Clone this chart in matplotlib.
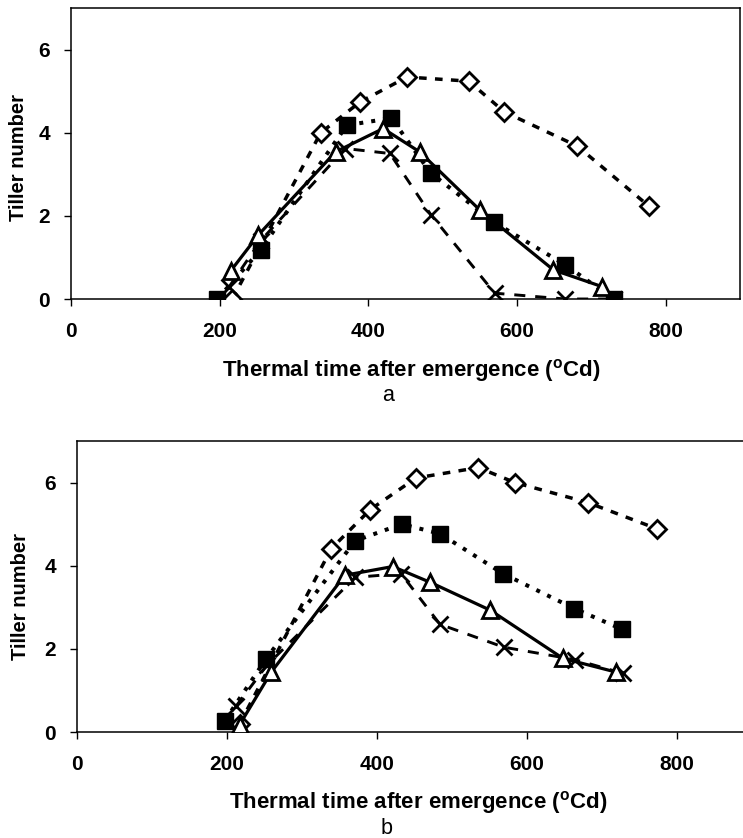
import matplotlib
matplotlib.use("Agg")
import matplotlib.pyplot as plt

plt.rcParams['font.family'] = ['Liberation Sans', 'DejaVu Sans']
plt.rcParams['mathtext.fontset'] = 'custom'
plt.rcParams['mathtext.rm'] = 'Liberation Sans:bold'
plt.rcParams['mathtext.bf'] = 'Liberation Sans:bold'

# ---- panel a ----
a_diamond_x = [217, 336, 389, 452, 535, 583, 681, 777]
a_diamond_y = [0.0, 4.0, 4.74, 5.34, 5.24, 4.5, 3.68, 2.24]
a_square_x = [197, 255, 371, 431, 484, 569, 665, 730]
a_square_y = [0.0, 1.18, 4.18, 4.35, 3.03, 1.85, 0.82, 0.0]
a_tri_x = [215, 252, 356, 420, 469, 550, 649, 714]
a_tri_y = [0.68, 1.54, 3.54, 4.1, 3.54, 2.14, 0.7, 0.3]
a_cross_x = [213, 255, 369, 429, 484, 570, 665, 730]
a_cross_y = [0.3, 1.4, 3.62, 3.5, 2.03, 0.14, 0.0, 0.0]

# ---- panel b ----
b_diamond_x = [217, 339, 391, 452, 535, 584, 681, 773]
b_diamond_y = [0.2, 4.41, 5.35, 6.11, 6.36, 6.0, 5.52, 4.89]
b_square_x = [197, 252, 371, 433, 484, 568, 663, 727]
b_square_y = [0.27, 1.76, 4.6, 5.0, 4.77, 3.81, 2.97, 2.47]
b_tri_x = [217, 259, 357, 421, 471, 551, 648, 719]
b_tri_y = [0.18, 1.44, 3.77, 3.98, 3.6, 2.93, 1.77, 1.44]
b_cross_x = [212, 253, 371, 432, 484, 569, 664, 728]
b_cross_y = [0.62, 1.6, 3.72, 3.81, 2.59, 2.04, 1.74, 1.41]

x_ticks = [0, 200, 400, 600, 800]
y_ticks = [0, 2, 4, 6]
x_label = r"Thermal time after emergence ($^{\mathrm{o}}$Cd)"
y_label = "Tiller number"

W, H = 743, 838
fig = plt.figure(figsize=(W / 100, H / 100), dpi=100)


def px_axes(left, top, right, bottom):
    return fig.add_axes([left / W, 1 - bottom / H, (right - left) / W, (bottom - top) / H])


def fig_text(x, y, s, **kw):
    fig.text(x / W, 1 - y / H, s, ha='center', va='center', **kw)


def draw_panel(ax, d, s, t, c):
    ax.plot(d[0], d[1], color='black', lw=2.5, ls=(0, (2.2, 2.4)),
            marker='D', ms=9, mfc='white', mec='black', mew=2.0, zorder=3)
    ax.plot(s[0], s[1], color='black', lw=2.9, ls=(0, (1.0, 2.0)),
            marker='s', ms=11.5, mfc='black', mec='black', zorder=4)
    ax.plot(c[0], c[1], color='black', lw=2.1, ls=(0, (3.8, 3.4)),
            marker='x', ms=12, mec='black', mew=2.0, zorder=5)
    ax.plot(t[0], t[1], color='black', lw=2.3, ls='-',
            marker='^', ms=12, mfc='white', mec='black', mew=2.0, zorder=6)

    ax.set_xlim(0, 900)
    ax.set_ylim(0, 7)
    ax.set_xticks(x_ticks)
    ax.set_yticks(y_ticks)
    ax.tick_params(axis='both', direction='out', length=5, width=1.0,
                   labelsize=15)
    ax.tick_params(axis='x', pad=11.5)
    ax.tick_params(axis='y', pad=10)
    for lab in ax.get_xticklabels() + ax.get_yticklabels():
        lab.set_fontweight('bold')
    for sp in ax.spines.values():
        sp.set_linewidth(1.1)


ax_a = px_axes(71, 8, 740, 299)
draw_panel(ax_a, (a_diamond_x, a_diamond_y), (a_square_x, a_square_y),
           (a_tri_x, a_tri_y), (a_cross_x, a_cross_y))

ax_b = px_axes(77, 441, 752, 732)
draw_panel(ax_b, (b_diamond_x, b_diamond_y), (b_square_x, b_square_y),
           (b_tri_x, b_tri_y), (b_cross_x, b_cross_y))

fig_text(19, 157, y_label, rotation=90, fontsize=14.5, fontweight='bold')
fig_text(21, 596, y_label, rotation=90, fontsize=14.5, fontweight='bold')
fig_text(411, 370, x_label, fontsize=16, fontweight='bold')
fig_text(388, 395, "a", fontsize=15.5)
fig_text(418, 802, x_label, fontsize=16, fontweight='bold')
fig_text(387, 828, "b", fontsize=15.5)

fig.savefig("out.png", dpi=100)
